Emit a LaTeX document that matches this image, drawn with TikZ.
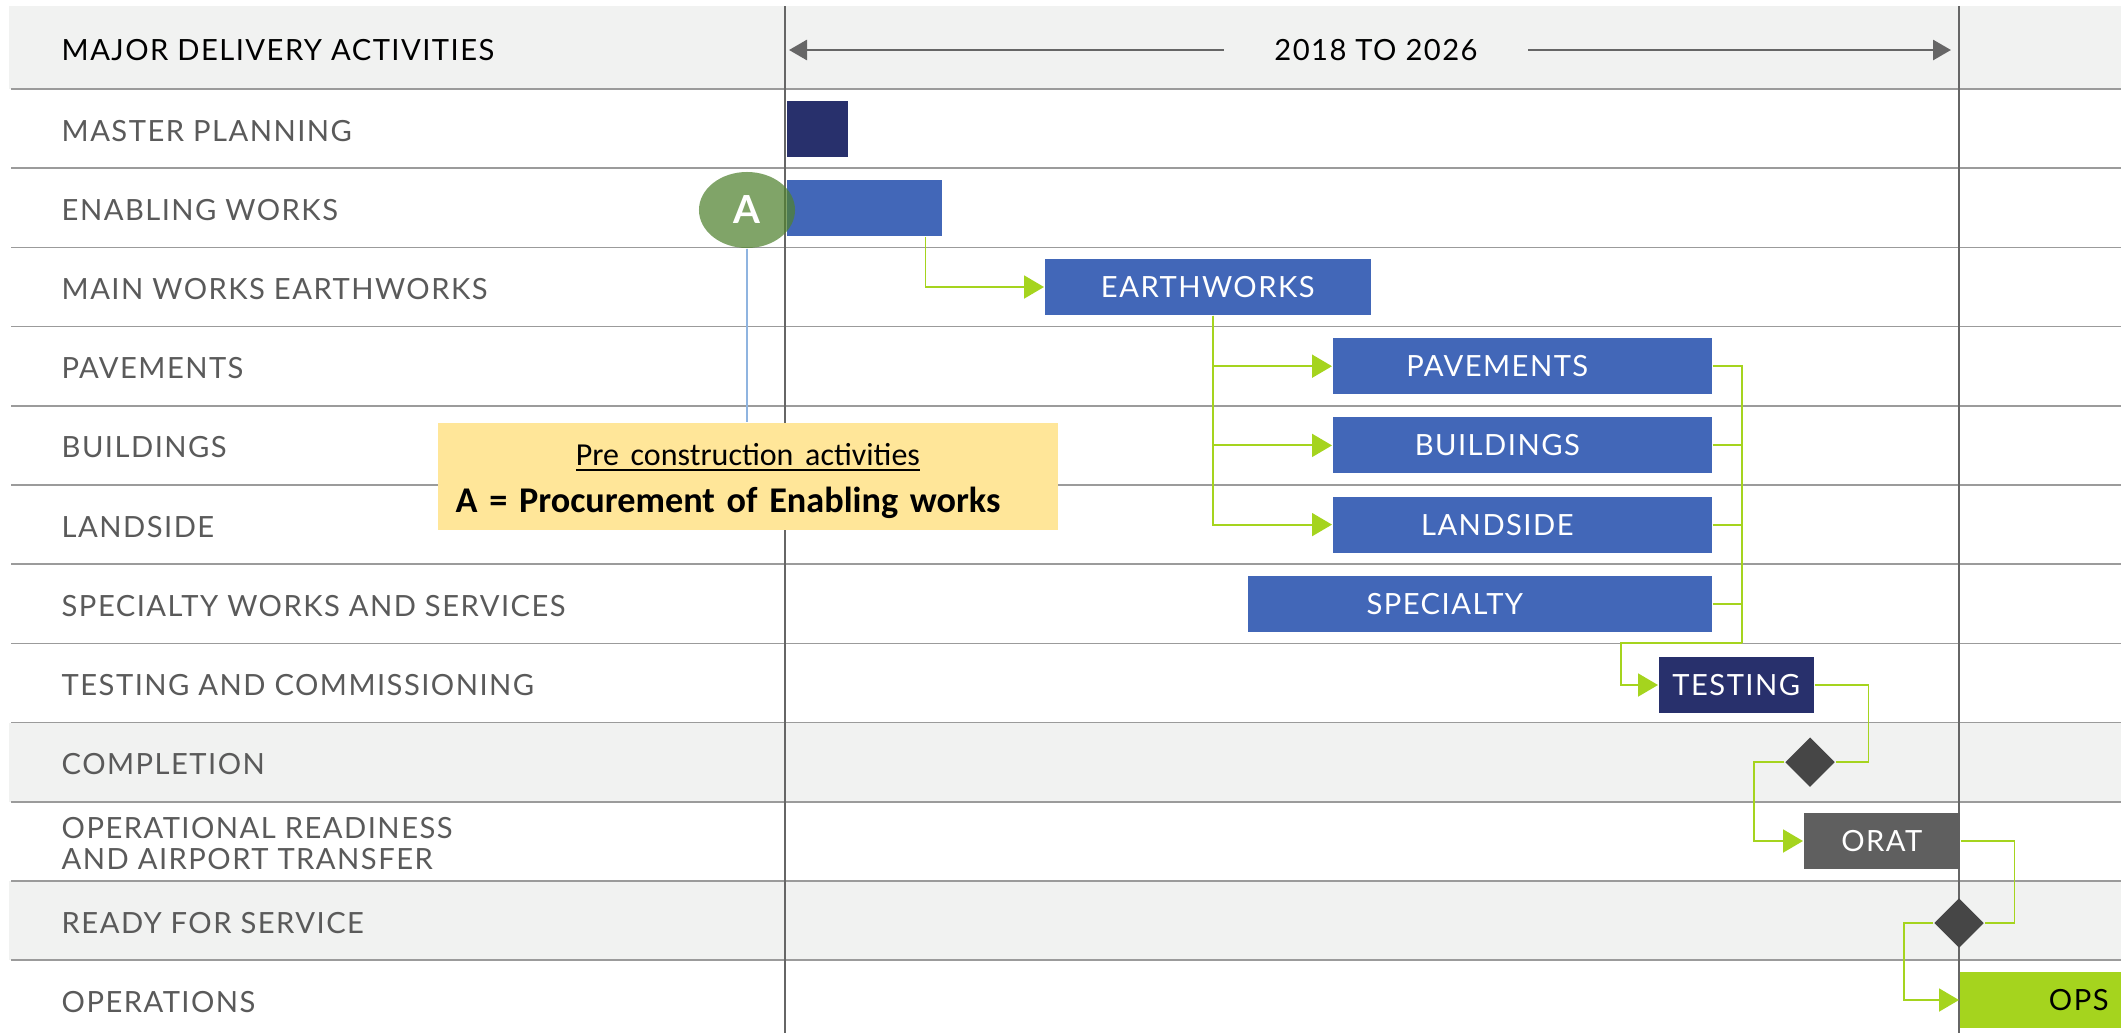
\documentclass[tikz,border=0pt]{standalone}
\usepackage{fontspec}
\setmainfont{Lato}[LetterSpace=5]
\newfontfamily\calibri{Carlito}[WordSpace=0.8]
\usetikzlibrary{shapes.geometric,arrows.meta,positioning}
\definecolor{rowgray}{HTML}{F1F2F1}
\definecolor{rulegray}{HTML}{9B9B9B}
\definecolor{axisgray}{HTML}{666666}
\definecolor{labelgray}{HTML}{5A5A5A}
\definecolor{navy}{HTML}{28306C}
\definecolor{barblue}{HTML}{4267B8}
\definecolor{lime}{HTML}{A5D41E}
\definecolor{oratgray}{HTML}{5F5F5F}
\definecolor{diamgray}{HTML}{464646}
\definecolor{agreen}{RGB}{81,130,48}
\definecolor{noteyellow}{HTML}{FFE699}
\definecolor{guideblue}{HTML}{8FB4E0}

\begin{document}
\begin{tikzpicture}[x=0.01cm,y=-0.01cm,
  rowlabel/.style={anchor=west,inner xsep=0pt,text=labelgray,align=left,font=\fontsize{8.3}{9}\selectfont},
  bar/.style={anchor=west,fill=#1,text=white,minimum height=0.56cm,inner sep=0pt,font=\fontsize{8.3}{9}\selectfont},
  milestone/.style={diamond,fill=diamgray,minimum size=0.5cm,inner sep=0pt},
  flow/.style={lime,line width=0.55pt},
  link/.style={flow,-{Triangle[length=0.2cm,width=0.23cm]}},
  timeline/.style={axisgray,line width=0.8pt,-{Triangle[length=0.18cm,width=0.2cm]}}]

\useasboundingbox (0,0) rectangle (2121,1033);
% shaded rows and rules
\fill[rowgray] (9,6) rectangle (2121,89);
\fill[rowgray] (9,722.6) rectangle (2121,801.8);
\fill[rowgray] (9,880.9) rectangle (2121,960);
\foreach \i in {0,...,11}
  \draw[rulegray,line width=0.5pt] (11,{89+79.2*\i}) -- (2121,{89+79.2*\i});
\draw[axisgray,line width=0.5pt] (785,6) -- (785,1033);
\draw[axisgray,line width=0.5pt] (1959,6) -- (1959,1033);

% header
\node[anchor=west,inner xsep=0pt,font=\fontsize{8.3}{9}\selectfont] (head) at (61,50) {MAJOR DELIVERY ACTIVITIES};
\node[inner xsep=0.5cm,font=\fontsize{8.3}{9}\selectfont] (span) at (1376,50) {2018 TO 2026};
\coordinate (t0) at (789,50);
\coordinate (t1) at (1951,50);
\draw[timeline] (span.west) -- (t0);
\draw[timeline] (span.east) -- (t1);

% activity names
\foreach \t [count=\n] in {MASTER PLANNING,ENABLING WORKS,MAIN WORKS EARTHWORKS,PAVEMENTS,BUILDINGS,LANDSIDE,SPECIALTY WORKS AND SERVICES,TESTING AND COMMISSIONING,COMPLETION,{OPERATIONAL READINESS\\AND AIRPORT TRANSFER},READY FOR SERVICE,OPERATIONS}
  \node[rowlabel] (L\n) at (61,{91+79.2*(\n-0.5)}) {\t};

% bars
\node[bar=navy,minimum width=0.61cm] (plan) at (786,128.6) {};
\node[bar=barblue,minimum width=1.55cm] (enab) at (786,207.8) {};
\node[bar=barblue,minimum width=3.26cm] (earth) at (1044,287) {EARTHWORKS};
\node[bar=barblue,minimum width=3.79cm] (pave) at (1332,366.2) {PAVEMENTS\hspace{0.5cm}\mbox{}};
\node[bar=barblue,minimum width=3.79cm] (bldg) at (1332,445.4) {BUILDINGS\hspace{0.5cm}\mbox{}};
\node[bar=barblue,minimum width=3.79cm] (land) at (1332,524.6) {LANDSIDE\hspace{0.5cm}\mbox{}};
\node[bar=barblue,minimum width=4.64cm] (spec) at (1247,603.8) {SPECIALTY\hspace{0.7cm}\mbox{}};
\node[bar=navy,minimum width=1.55cm] (test) at (1658,685) {TESTING};
\node[milestone] (done) at (1810,762.2) {};
\node[bar=oratgray,minimum width=1.56cm] (orat) at (1803,841) {ORAT};
\node[milestone] (ready) at (1959,923) {};
\node[bar=lime,text=black,minimum width=1.62cm] (ops) at (1959,1000) {\hspace{0.76cm}OPS};

% milestone A and note
\node[ellipse,fill=agreen,fill opacity=0.73,text opacity=1,text=white,minimum width=0.96cm,minimum height=0.76cm,inner sep=0pt,font=\bfseries\fontsize{11}{11}\selectfont] (mA) at (747,210) {A};
\node[fill=noteyellow,anchor=north west,inner xsep=0.18cm,text width=5.84cm,minimum height=1.03cm,align=left] (note) at (437,422)
  {\makebox[5.84cm]{\calibri\fontsize{9.1}{12}\selectfont\rule{0pt}{8.7pt}\underline{Pre construction activities}}\\[1.5pt]
   \calibri\bfseries\fontsize{10.3}{12.5}\selectfont A = Procurement of Enabling works};
\draw[guideblue,line width=0.4pt] (mA.south) -- (mA.south |- note.north);

% links
\draw[link] ([xshift=-0.17cm]enab.south east) |- (earth.west);
\foreach \b in {pave,bldg,land}
  \draw[link] ([xshift=1.69cm]earth.south west) |- (\b.west);
\coordinate (merge) at (1742,643.4);
\foreach \b in {pave,bldg,land,spec}
  \draw[flow] (\b.east) -| (merge);
\draw[link] (merge) -- ++(-121,0) |- (test.west);
\draw[flow] (test.east) -- ++(54,0) |- (done.east);
\draw[link] (done.west) -- ++(-30,0) |- (orat.west);
\draw[flow] (orat.east) -- ++(54,0) |- (ready.east);
\draw[link] (ready.west) -- ++(-29,0) |- (ops.west);
\end{tikzpicture}
\end{document}
